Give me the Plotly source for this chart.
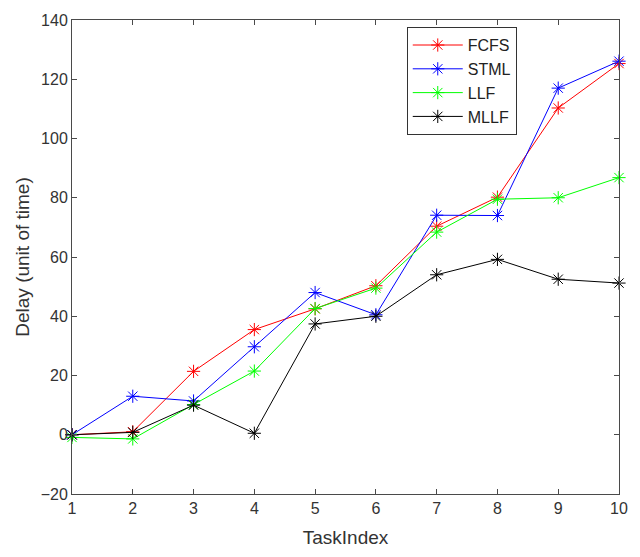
import plotly.graph_objects as go

task_index = [1, 2, 3, 4, 5, 6, 7, 8, 9, 10]
fcfs = [0, 1.0, 21.4, 35.5, 42.5, 50.3, 70.4, 80.2, 110.3, 125.3]
stml = [0, 13.0, 11.4, 29.7, 48.0, 40.5, 74.1, 74.0, 117.0, 126.1]
llf = [-0.9, -1.4, 10.2, 21.5, 42.6, 49.5, 68.4, 79.5, 80.0, 86.8]
mllf = [0, 0.8, 10.0, 0.5, 37.4, 40.0, 54.0, 59.2, 52.5, 51.2]

series = [("FCFS", fcfs, "#ff0000"), ("STML", stml, "#0000ff"),
          ("LLF", llf, "#00ff00"), ("MLLF", mllf, "#000000")]

fig = go.Figure()
for name, vals, col in series:
    fig.add_trace(go.Scatter(
        x=task_index, y=vals, name=name, mode="lines+markers",
        line=dict(color=col, width=1),
        marker=dict(symbol="asterisk-open", size=11, color=col,
                    line=dict(color=col, width=1)),
        cliponaxis=False))

font = "Liberation Sans, Arial, sans-serif"
axcol = "#4a4a4a"
fig.update_layout(
    width=640, height=557,
    margin=dict(l=72, r=19, t=14, b=62),
    paper_bgcolor="white", plot_bgcolor="white",
    font=dict(family=font, size=16, color="#333333"),
    showlegend=True,
    legend=dict(x=0.612, y=0.985, xanchor="left", yanchor="top",
                bgcolor="white", bordercolor="#333333", borderwidth=1,
                font=dict(size=16, color="#222222"), itemwidth=50,
                tracegroupgap=0),
)
fig.update_xaxes(range=[1, 10], tickvals=task_index, ticks="inside", ticklen=5,
                 tickcolor=axcol, showline=True, linecolor=axcol, linewidth=1,
                 mirror="ticks", showgrid=False, zeroline=False,
                 title=dict(text="TaskIndex", standoff=14),
                 tickfont=dict(size=16))
fig.update_yaxes(range=[-20, 140], tickvals=list(range(-20, 141, 20)),
                 ticks="inside", ticklen=5,
                 tickcolor=axcol, showline=True, linecolor=axcol, linewidth=1,
                 mirror="ticks", showgrid=False, zeroline=False,
                 title=dict(text="Delay (unit of time)", standoff=6),
                 tickfont=dict(size=16))
fig.write_html("out.html")
